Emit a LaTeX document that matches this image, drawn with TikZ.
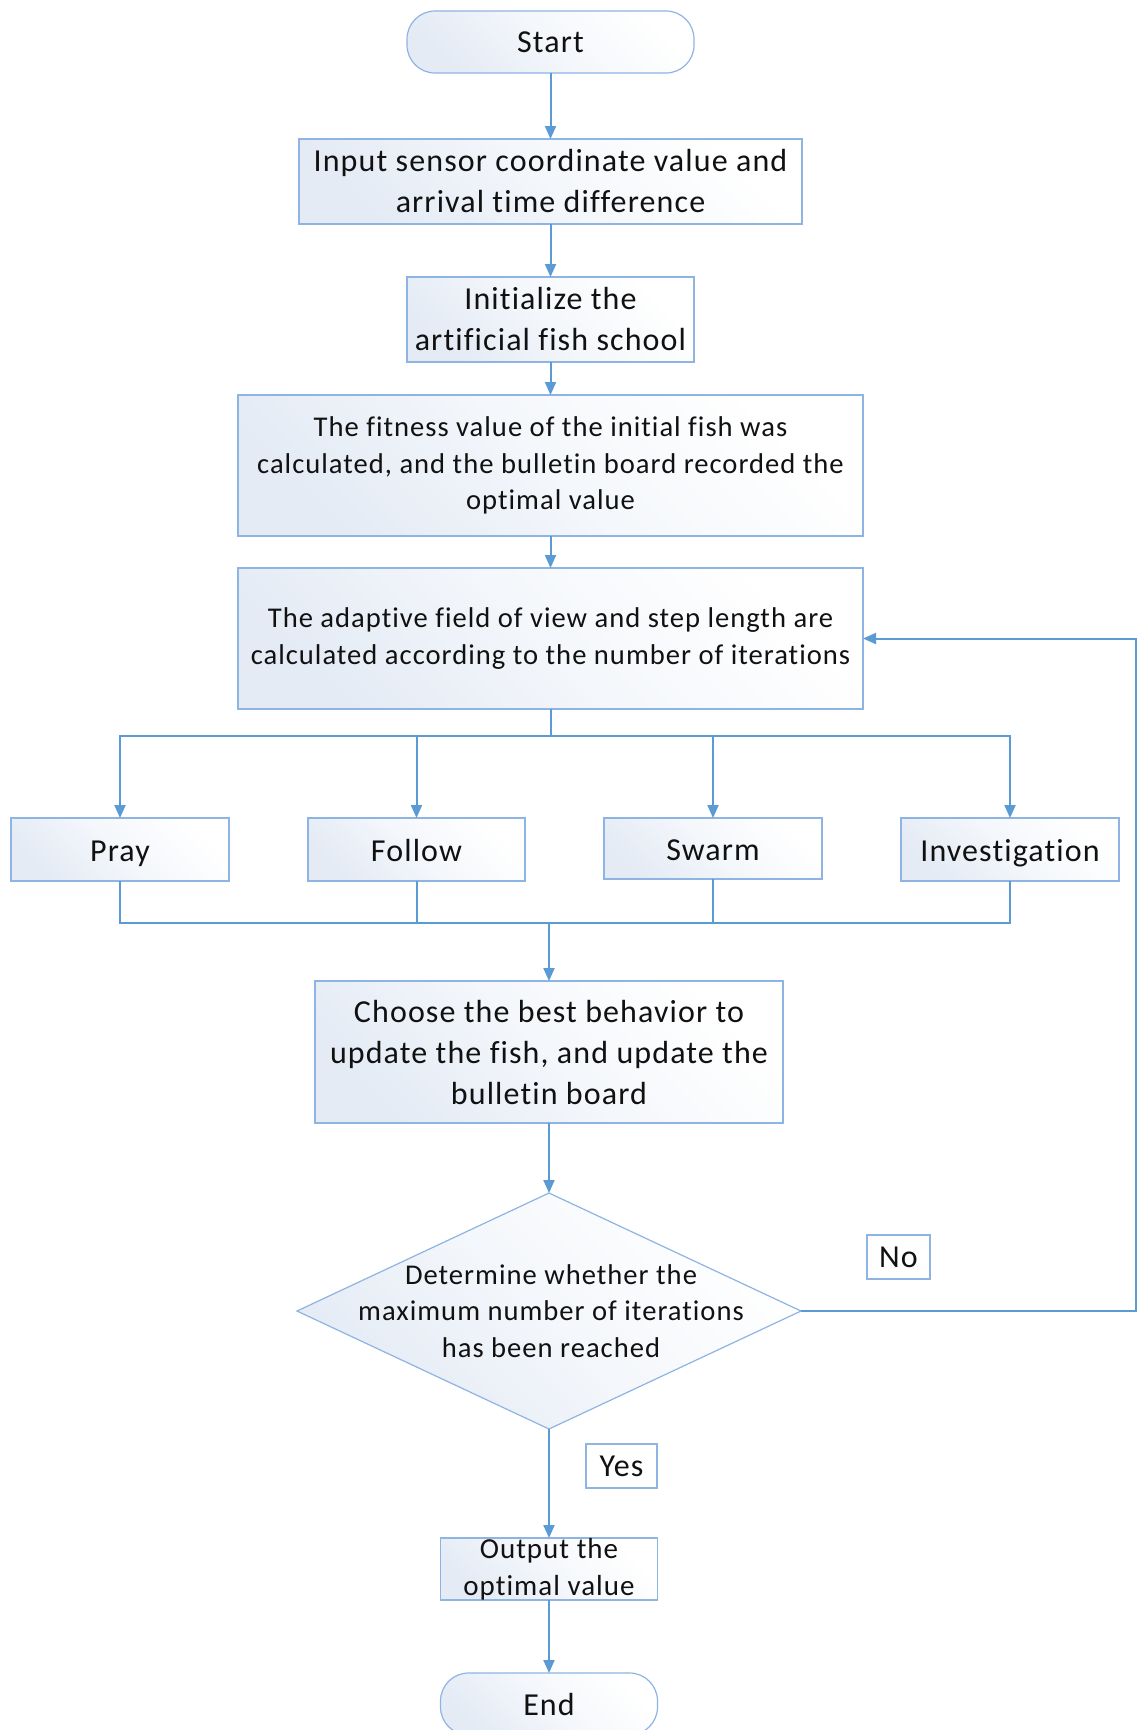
\documentclass[tikz,border=0pt]{standalone}
\usepackage{fontspec}
\setmainfont{Carlito}[LetterSpace=3.5,Ligatures=NoCommon]
\usetikzlibrary{arrows.meta,shapes.geometric}
\definecolor{lineblue}{HTML}{5B9BD5}
\definecolor{edgeblue}{HTML}{8EB4E3}
\definecolor{fillblue}{HTML}{E4EBF5}
\definecolor{txt}{HTML}{111111}
\begin{document}
\begin{tikzpicture}[x=1pt,y=-1pt,
  box/.style={draw=edgeblue,line width=1.2pt,left color=fillblue,right color=white,shading angle=135,
    middle color=white!60!fillblue,
    inner sep=0pt,outer sep=0pt,align=center,text=txt},
  bigtxt/.style={font=\fontsize{32}{41}\selectfont},
  midtxt/.style={font=\fontsize{28.6}{36.5}\selectfont},
  behav/.style={box,bigtxt,minimum width=218pt,minimum height=63pt,text height=24pt,text depth=1pt},
  term/.style={box,rounded corners=28pt,minimum width=287pt,minimum height=62pt,bigtxt},
  arr/.style={draw=lineblue,line width=2pt,-{Triangle[length=13pt,width=11pt]}},
  ln/.style={draw=lineblue,line width=2pt},
  tag/.style={draw=edgeblue,line width=1.2pt,fill=white,inner sep=0pt,minimum height=44pt,bigtxt,text=txt}]
\useasboundingbox (0,0) rectangle (1137,1730);
\fill[white] (0,0) rectangle (1137,1730);

\node[term] (start) at (550.5,42) {Start};
\node[box,bigtxt,minimum width=503pt,minimum height=85pt] (input) at (550.5,181.5) {Input sensor coordinate value and\\arrival time difference};
\node[box,bigtxt,minimum width=287pt,minimum height=85pt] (init) at (550.5,319.5) {Initialize the\\artificial fish school};
\node[box,midtxt,minimum width=625pt,minimum height=141pt] (fit) at (550.5,465.5) {The fitness value of the initial fish was\\calculated, and the bulletin board recorded the\\optimal value};
\node[box,midtxt,minimum width=625pt,minimum height=141pt] (adapt) at (550.5,638.5) {The adaptive field of view and step length are\\calculated according to the number of iterations};

\node[behav] (pray) at (120,849.5) {Pray};
\node[behav,minimum width=217pt] (follow) at (416.5,849.5) {Follow};
\node[behav,minimum height=61pt] (swarm) at (713,848.5) {Swarm};
\node[behav] (inv) at (1010,849.5) {Investigation};

\node[box,bigtxt,minimum width=468pt,minimum height=142pt] (choose) at (549,1052) {Choose the best behavior to\\update the fish, and update the\\bulletin board};

\node[diamond,draw=edgeblue,line width=1.2pt,left color=fillblue,right color=white,shading angle=135,
  middle color=white!60!fillblue,
  minimum width=504pt,minimum height=236pt,inner sep=0pt,outer sep=0pt] (dec) at (549,1311) {};
\node[midtxt,align=center,text=txt,inner sep=0pt] (dectxt) at (551,1311) {Determine whether the\\maximum number of iterations\\has been reached};

\node[tag,minimum width=63pt] (no) at (898.5,1257) {No};
\node[tag,minimum width=71pt] (yes) at (621.5,1466) {Yes};

\node[box,font=\fontsize{29}{36.5}\selectfont,minimum width=217pt,minimum height=62pt] (out) at (549,1569) {Output the\\optimal value};
\node[term,minimum width=217pt] (end) at (549,1704) {End};

\coordinate (br) at (550.5,736);
\coordinate (mg) at (549,923);
\coordinate (loop) at (1136,1311);

\draw[arr] (start.south) -- (input.north);
\draw[arr] (input.south) -- (init.north);
\draw[arr] (init.south) -- (fit.north);
\draw[arr] (fit.south) -- (adapt.north);
\draw[ln] (adapt.south) -- (br);
\draw[arr] (br) -| (pray.north);
\draw[arr] (br) -| (follow.north);
\draw[arr] (br) -| (swarm.north);
\draw[arr] (br) -| (inv.north);
\draw[ln] (pray.south) |- (mg);
\draw[ln] (follow.south) |- (mg);
\draw[ln] (swarm.south) |- (mg);
\draw[ln] (inv.south) |- (mg);
\draw[arr] (mg) -- (choose.north);
\draw[arr] (choose.south) -- (dec.north);
\draw[arr] (dec.south) -- (out.north);
\draw[arr] (out.south) -- (end.north);
\draw[arr] (dec.east) -- (loop) |- (adapt.east);
\end{tikzpicture}
\end{document}
